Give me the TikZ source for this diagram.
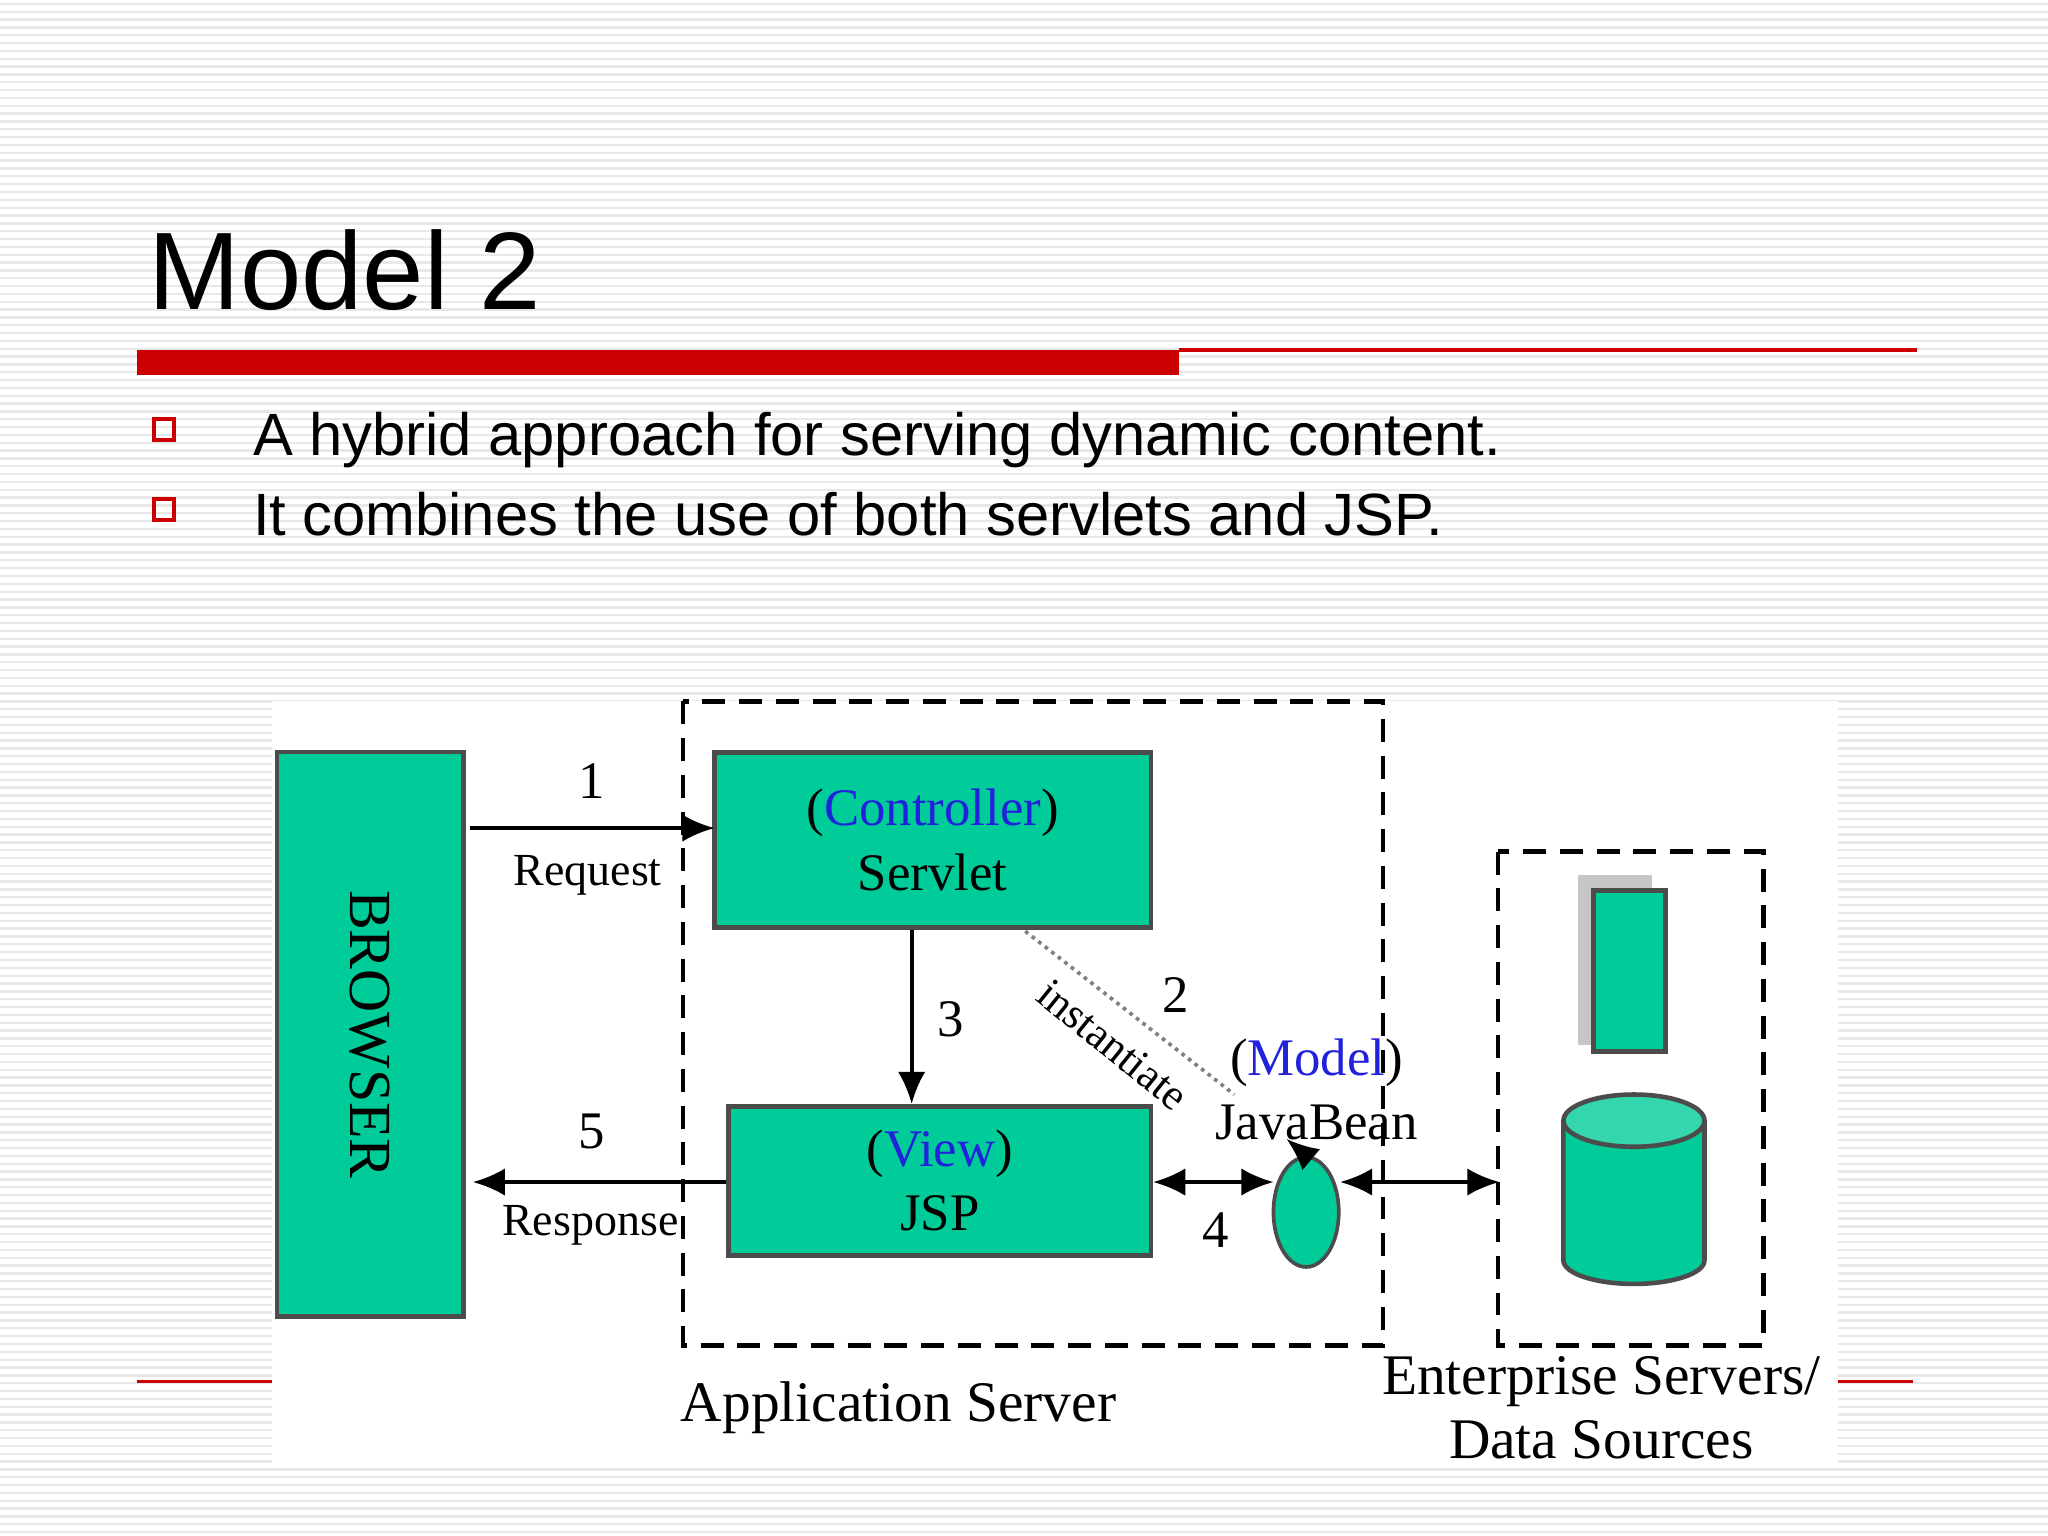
\documentclass[tikz,border=0pt]{standalone}
\usepackage{fontspec}
\setmainfont{Liberation Serif}
\newfontfamily\sans{Liberation Sans}
\usetikzlibrary{shapes.geometric,arrows.meta}
\definecolor{teal1}{HTML}{00CC99}
\definecolor{redbar}{HTML}{CC0000}
\definecolor{bluet}{HTML}{2222DD}
\begin{document}
\begin{tikzpicture}[x=0.01cm,y=-0.01cm,
  box/.style={draw=black!70,line width=1pt,fill=teal1},
  lbl/.style={font=\fontsize{10}{12}\selectfont},
  big/.style={font=\fontsize{11.5}{14}\selectfont},
  arr/.style={-{Latex[length=7pt,width=6pt]},line width=0.8pt},
  darr/.style={{Latex[length=7pt,width=6pt]}-{Latex[length=7pt,width=6pt]},line width=0.8pt},
  dsh/.style={dashed,line width=1pt,dash pattern=on 5pt off 3pt}]
\useasboundingbox (0,0) rectangle (1568,1176);
\fill[gray!18] (0,0) rectangle (1568,1176);
\foreach \y in {0,6,...,1176} \draw[white,line width=1.2pt] (0,\y) -- (1568,\y);
% title
\node[anchor=base west,inner sep=0,font=\sans\fontsize{24}{28}\selectfont] (title) at (113,237) {Model 2};
\fill[redbar] (105,268) rectangle (903,287);
\draw[redbar,line width=0.8pt] (903,268) -- (1468,268);
\draw[redbar,line width=0.9pt] (118,321) rectangle (133,337);
\draw[redbar,line width=0.9pt] (118,382) rectangle (133,398);
\node[anchor=base west,inner sep=0,font=\sans\fontsize{13}{15}\selectfont] (b1) at (193,349) {A hybrid approach for serving dynamic content.};
\node[anchor=base west,inner sep=0,font=\sans\fontsize{13}{15}\selectfont] (b2) at (193,410) {It combines the use of both servlets and JSP.};
\draw[redbar,line width=0.6pt] (105,1058) -- (208,1058);
\draw[redbar,line width=0.6pt] (1407,1058) -- (1465,1058);
% panel
\fill[white] (208,537) rectangle (1407,1122);
\node[box,minimum width=1.43cm,minimum height=4.32cm] (browser) at (283.5,792) {};
\node[rotate=-90,font=\fontsize{13}{16}\selectfont] at (browser) {BROWSER};
\draw[dsh] (523,537) rectangle (1059,1030);
\node[box,minimum width=3.34cm,minimum height=1.34cm,align=center,big] (servlet) at (714,643) {(\textcolor{bluet}{Controller})\\Servlet};
\node[box,minimum width=3.23cm,minimum height=1.14cm,align=center,big] (jsp) at (719.5,904) {(\textcolor{bluet}{View})\\JSP};
\coordinate (reqs) at (360,634);
\coordinate (reqe) at (547,634);
\draw[arr] (reqs) -- (reqe);
\node[big] (n1) at (453,598) {1};
\node[lbl] (req) at (450,670) {Request};
\coordinate (rese) at (362,905);
\draw[arr] (jsp.west |- rese) -- (rese);
\node[big] (n5) at (453,866) {5};
\node[lbl] (res) at (452,938) {Response};
\draw[arr] (servlet.south -| 698,0) -- (jsp.north -| 698,0);
\node[big] (n3) at (728,780) {3};
\node[ellipse,box,line width=0.8pt,minimum width=0.5cm,minimum height=0.84cm,inner sep=0] (bean) at (1000,928) {};
\coordinate (inst) at (945,838);
\draw[gray,densely dotted,line width=0.8pt] (785,713) -- (inst);
\node[rotate=-39,font=\fontsize{9.5}{12}\selectfont] (instl) at (852,800) {instantiate};
\node[big] (n2) at (900,762) {2};
\node[big,align=center,inner sep=0] (model) at (1008,834) {(\textcolor{bluet}{Model})\\JavaBean};
\coordinate (beantip) at (985,872);
\draw[arr] (bean.north) -- (beantip);
\coordinate (bl) at (975,905);
\coordinate (br) at (1026,905);
\draw[darr] (jsp.east |- bl) -- (bl);
\node[big] (n4) at (931,942) {4};
\coordinate (ent) at (1148,905);
\draw[darr] (br) -- (ent);
\draw[dsh] (1147,652) rectangle (1350,1030);
\fill[gray!45] (1208,670) rectangle (1265,800);
\node[box,minimum width=0.55cm,minimum height=1.23cm] (srv) at (1247.5,743.5) {};
\draw[box] (1197,858) -- (1197,965) arc[start angle=180,end angle=360,x radius=54,y radius=-18] -- (1305,858);
\draw[box,fill=teal1!80!white] (1251,858) ellipse[x radius=54,y radius=20];
\node[font=\fontsize{12.5}{15}\selectfont] (app) at (688,1078) {Application Server};
\node[font=\fontsize{12.5}{14}\selectfont,align=center,inner sep=0] (entl) at (1226,1078) {Enterprise Servers/\\Data Sources};
\end{tikzpicture}
\end{document}
